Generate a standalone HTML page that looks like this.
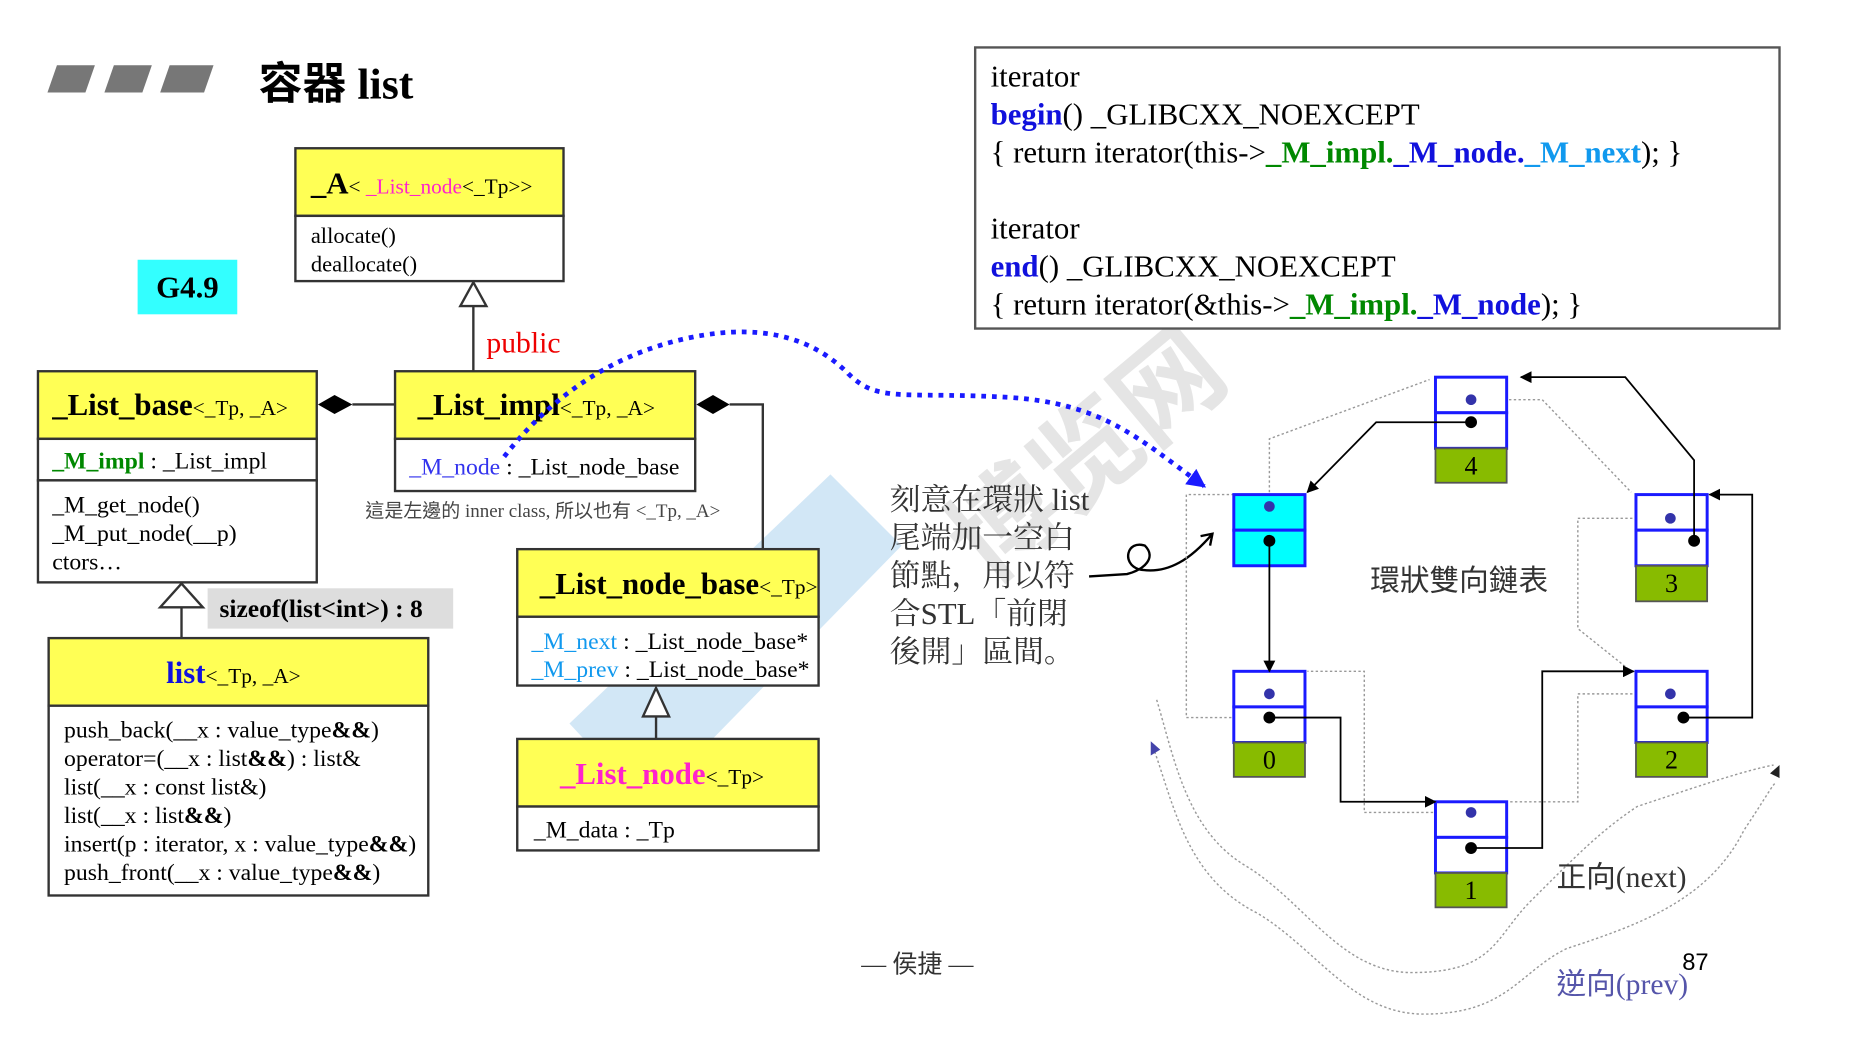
<!DOCTYPE html>
<html><head><meta charset="utf-8"><style>
html,body{margin:0;padding:0;background:#fff;overflow:hidden}
svg{display:block}
text{font-family:"Liberation Serif","Noto Serif CJK SC","Noto Sans CJK TC",serif}
.cjk{font-family:"Liberation Serif","Noto Sans CJK TC",sans-serif}
</style></head><body>
<svg width="1859" height="1039" viewBox="0 0 1567 876" preserveAspectRatio="none" xmlns="http://www.w3.org/2000/svg">
<defs>
<marker id="ab" markerWidth="10" markerHeight="10" refX="9" refY="5" orient="auto" markerUnits="userSpaceOnUse"><path d="M0,0 L10,5 L0,10 z" fill="#000"/></marker>
<marker id="abl" markerWidth="16" markerHeight="16" refX="14" refY="8" orient="auto" markerUnits="userSpaceOnUse"><path d="M0,0 L16,8 L0,16 z" fill="#1a1aff"/></marker>
</defs>
<!-- watermark -->
<g opacity="0.3">
<polygon points="480,610 700,400 760,460 545,680" fill="#6aaee0"/>
</g>
<text x="700" y="470" font-size="90" fill="#ccc" opacity="0.5" transform="rotate(-40 800 300)" font-weight="bold" class="cjk">博览网</text>

<!-- title -->
<polygon points="48,55 80,55 72,78 40,78" fill="#777"/>
<polygon points="96,55 128,55 120,78 88,78" fill="#777"/>
<polygon points="143,55 180,55 172,78 135,78" fill="#777"/>
<text x="218" y="83" font-size="37" font-weight="bold" class="cjk">容器 list</text>

<!-- G4.9 -->
<rect x="116" y="219" width="84" height="46" fill="#33ffff"/>
<text x="158" y="251" font-size="26" font-weight="bold" text-anchor="middle">G4.9</text>

<!-- _A box -->
<rect x="249" y="125" width="226" height="57" fill="#ffff55" stroke="#333" stroke-width="2"/>
<rect x="249" y="182" width="226" height="55" fill="#fff" stroke="#333" stroke-width="2"/>
<text x="262" y="163"><tspan font-size="26" font-weight="bold">_A</tspan><tspan font-size="18">&lt; </tspan><tspan font-size="18" fill="#ff22cc">_List_node</tspan><tspan font-size="18">&lt;_Tp&gt;&gt;</tspan></text>
<text x="262" y="205" font-size="19">allocate()</text>
<text x="262" y="229" font-size="19">deallocate()</text>
<polygon points="399,238 388,258 410,258" fill="#fff" stroke="#333" stroke-width="2"/>
<line x1="399" y1="258" x2="399" y2="313" stroke="#333" stroke-width="2"/>
<text x="410" y="297" font-size="25" fill="#e00">public</text>

<!-- _List_base -->
<rect x="32" y="313" width="235" height="57" fill="#ffff55" stroke="#333" stroke-width="2"/>
<rect x="32" y="370" width="235" height="35" fill="#fff" stroke="#333" stroke-width="2"/>
<rect x="32" y="405" width="235" height="86" fill="#fff" stroke="#333" stroke-width="2"/>
<text x="44" y="350"><tspan font-size="26" font-weight="bold">_List_base</tspan><tspan font-size="18">&lt;_Tp, _A&gt;</tspan></text>
<text x="44" y="395" font-size="20"><tspan fill="#008800" font-weight="bold">_M_impl</tspan> : _List_impl</text>
<text x="44" y="432" font-size="20">_M_get_node()</text>
<text x="44" y="456" font-size="20">_M_put_node(__p)</text>
<text x="44" y="480" font-size="20">ctors…</text>
<polygon points="268,341 282,333 297,341 282,349" fill="#000"/>
<line x1="297" y1="341" x2="333" y2="341" stroke="#333" stroke-width="2"/>

<!-- _List_impl -->
<rect x="333" y="313" width="253" height="57" fill="#ffff55" stroke="#333" stroke-width="2"/>
<rect x="333" y="370" width="253" height="44" fill="#fff" stroke="#333" stroke-width="2"/>
<text x="352" y="350"><tspan font-size="26" font-weight="bold">_List_impl</tspan><tspan font-size="18">&lt;_Tp, _A&gt;</tspan></text>
<text x="345" y="400" font-size="20"><tspan fill="#3333ee">_M_node</tspan> : _List_node_base</text>
<text x="308" y="436" font-size="16" class="cjk" fill="#444">這是左邊的 inner class, 所以也有 &lt;_Tp, _A&gt;</text>
<polygon points="587,341 601,333 615,341 601,349" fill="#000"/>
<polyline points="615,341 643,341 643,463" fill="none" stroke="#333" stroke-width="2"/>

<!-- _List_node_base -->
<rect x="436" y="463" width="254" height="57" fill="#ffff55" stroke="#333" stroke-width="2"/>
<rect x="436" y="520" width="254" height="58" fill="#fff" stroke="#333" stroke-width="2"/>
<text x="455" y="501"><tspan font-size="26" font-weight="bold">_List_node_base</tspan><tspan font-size="18">&lt;_Tp&gt;</tspan></text>
<text x="448" y="547" font-size="20"><tspan fill="#1199ee">_M_next</tspan> : _List_node_base*</text>
<text x="448" y="571" font-size="20"><tspan fill="#1199ee">_M_prev</tspan> : _List_node_base*</text>
<polygon points="553,580 542,604 564,604" fill="#fff" stroke="#333" stroke-width="2"/>
<line x1="553" y1="604" x2="553" y2="623" stroke="#333" stroke-width="2"/>

<!-- _List_node -->
<rect x="436" y="623" width="254" height="57" fill="#ffff55" stroke="#333" stroke-width="2"/>
<rect x="436" y="680" width="254" height="37" fill="#fff" stroke="#333" stroke-width="2"/>
<text x="472" y="661"><tspan font-size="26" font-weight="bold" fill="#ff22cc">_List_node</tspan><tspan font-size="18">&lt;_Tp&gt;</tspan></text>
<text x="450" y="706" font-size="20">_M_data : _Tp</text>

<!-- list -->
<polygon points="153,492 135,512 171,512" fill="#fff" stroke="#333" stroke-width="2"/>
<line x1="153" y1="512" x2="153" y2="538" stroke="#333" stroke-width="2"/>
<rect x="175" y="496" width="207" height="34" fill="#ddd"/>
<text x="185" y="520" font-size="21.5" font-weight="bold">sizeof(list&lt;int&gt;) : 8</text>
<rect x="41" y="538" width="320" height="57" fill="#ffff55" stroke="#333" stroke-width="2"/>
<rect x="41" y="595" width="320" height="160" fill="#fff" stroke="#333" stroke-width="2"/>
<text x="140" y="576"><tspan font-size="26" font-weight="bold" fill="#1111dd">list</tspan><tspan font-size="18">&lt;_Tp, _A&gt;</tspan></text>
<g font-size="20">
<text x="54" y="622">push_back(__x : value_type<tspan font-weight="bold">&amp;&amp;</tspan>)</text>
<text x="54" y="646">operator=(__x : list<tspan font-weight="bold">&amp;&amp;</tspan>) : list&amp;</text>
<text x="54" y="670">list(__x : const list&amp;)</text>
<text x="54" y="694">list(__x : list<tspan font-weight="bold">&amp;&amp;</tspan>)</text>
<text x="54" y="718">insert(p : iterator, x : value_type<tspan font-weight="bold">&amp;&amp;</tspan>)</text>
<text x="54" y="742">push_front(__x : value_type<tspan font-weight="bold">&amp;&amp;</tspan>)</text>
</g>

<!-- code box -->
<rect x="822" y="40" width="678" height="237" fill="#fff" stroke="#555" stroke-width="2"/>
<g font-size="26">
<text x="835" y="73">iterator</text>
<text x="835" y="105"><tspan fill="#1111dd" font-weight="bold">begin</tspan>() _GLIBCXX_NOEXCEPT</text>
<text x="835" y="137">{ return iterator(this-&gt;<tspan fill="#008800" font-weight="bold">_M_impl.</tspan><tspan fill="#1111dd" font-weight="bold">_M_node.</tspan><tspan fill="#1199ee" font-weight="bold">_M_next</tspan>); }</text>
<text x="835" y="201">iterator</text>
<text x="835" y="233"><tspan fill="#1111dd" font-weight="bold">end</tspan>() _GLIBCXX_NOEXCEPT</text>
<text x="835" y="265">{ return iterator(&amp;this-&gt;<tspan fill="#008800" font-weight="bold">_M_impl.</tspan><tspan fill="#1111dd" font-weight="bold">_M_node</tspan>); }</text>
</g>

<!-- blue dotted curve -->
<path d="M425,385 C460,340 510,300 580,285 C650,270 690,290 715,315 C740,340 760,330 850,335 C930,340 960,370 1015,410" fill="none" stroke="#1a1aff" stroke-width="4" stroke-dasharray="4,5" marker-end="url(#abl)"/>

<!-- chinese text -->
<g font-size="26" class="cjk" fill="#333">
<text x="750" y="430">刻意在環狀 list</text>
<text x="750" y="462">尾端加一空白</text>
<text x="750" y="494">節點，用以符</text>
<text x="750" y="526">合STL「前閉</text>
<text x="750" y="558">後開」區間。</text>
</g>
<path d="M918,486 L950,484 C965,480 975,470 965,460 C950,455 945,475 960,480 C985,485 1005,470 1022,450" fill="none" stroke="#000" stroke-width="2"/>
<path d="M1012,452 L1022,450 L1020,460" fill="none" stroke="#000" stroke-width="2"/>

<!-- gray dotted prev lines -->
<g fill="none" stroke="#999" stroke-width="1.2" stroke-dasharray="2,2">
<polyline points="1070,605 1000,605 1000,417 1040,417"/>
<polyline points="1070,427 1070,370 1205,320"/>
<polyline points="1240,337 1300,337 1375,415"/>
<polyline points="1408,437 1330,437 1330,530 1375,566"/>
<polyline points="1408,585 1330,585 1330,676 1272,676"/>
<polyline points="1240,685 1150,685 1150,566 1102,566"/>
<path d="M975,590 C990,640 1000,700 1050,730 C1100,760 1130,820 1190,820 C1260,820 1260,790 1290,760 C1330,720 1350,700 1380,680 C1440,660 1470,650 1495,645"/>
<path d="M972,630 C990,680 1000,740 1060,770 C1110,800 1140,855 1200,855 C1270,855 1280,820 1320,800 C1380,780 1440,760 1470,700 C1490,670 1495,660 1497,660"/>
</g>
<polygon points="970,625 978,632 970,637" fill="#4444aa"/>
<polygon points="1500,645 1492,652 1500,656" fill="#222"/>

<!-- nodes -->
<g stroke="#1a1aff" stroke-width="2.5">
<rect x="1040" y="417" width="60" height="30" fill="#00ffff"/>
<rect x="1040" y="447" width="60" height="30" fill="#00ffff"/>
<rect x="1210" y="318" width="60" height="30" fill="#fff"/>
<rect x="1210" y="348" width="60" height="30" fill="#fff"/>
<rect x="1379" y="417" width="60" height="30" fill="#fff"/>
<rect x="1379" y="447" width="60" height="30" fill="#fff"/>
<rect x="1040" y="566" width="60" height="30" fill="#fff"/>
<rect x="1040" y="596" width="60" height="30" fill="#fff"/>
<rect x="1379" y="566" width="60" height="30" fill="#fff"/>
<rect x="1379" y="596" width="60" height="30" fill="#fff"/>
<rect x="1210" y="676" width="60" height="30" fill="#fff"/>
<rect x="1210" y="706" width="60" height="30" fill="#fff"/>
</g>
<g fill="#88bb00" stroke="#555" stroke-width="1.5">
<rect x="1210" y="378" width="60" height="29"/>
<rect x="1379" y="477" width="60" height="30"/>
<rect x="1040" y="626" width="60" height="29"/>
<rect x="1379" y="626" width="60" height="29"/>
<rect x="1210" y="736" width="60" height="29"/>
</g>
<g font-size="22" text-anchor="middle">
<text x="1240" y="400">4</text><text x="1409" y="499">3</text><text x="1070" y="648">0</text><text x="1409" y="648">2</text><text x="1240" y="758">1</text>
</g>
<g fill="#3333aa">
<circle cx="1070" cy="427" r="4.5"/><circle cx="1240" cy="337" r="4.5"/><circle cx="1408" cy="437" r="4.5"/><circle cx="1070" cy="585" r="4.5"/><circle cx="1408" cy="585" r="4.5"/><circle cx="1240" cy="685" r="4.5"/>
</g>
<g fill="#000">
<circle cx="1070" cy="456" r="5"/><circle cx="1240" cy="356" r="5"/><circle cx="1428" cy="456" r="5"/><circle cx="1070" cy="605" r="5"/><circle cx="1419" cy="605" r="5"/><circle cx="1240" cy="715" r="5"/>
</g>
<!-- black arrows -->
<g fill="none" stroke="#000" stroke-width="1.5" marker-end="url(#ab)">
<polyline points="1070,456 1070,566"/>
<polyline points="1070,605 1130,605 1130,676 1210,676"/>
<polyline points="1240,715 1300,715 1300,566 1377,566"/>
<polyline points="1419,605 1477,605 1477,417 1441,417"/>
<polyline points="1428,456 1428,388 1370,318 1282,318"/>
<polyline points="1240,356 1160,356 1102,415"/>
</g>

<text x="1155" y="498" font-size="25" class="cjk" fill="#333">環狀雙向鏈表</text>
<text x="1312" y="748" font-size="25" class="cjk" fill="#333">正向(next)</text>
<text x="1312" y="838" font-size="25" class="cjk" fill="#5555aa">逆向(prev)</text>
<text x="1418" y="818" font-size="20" style="font-family:'Liberation Sans',sans-serif">87</text>
<text x="726" y="820" font-size="21" class="cjk" fill="#333">— 侯捷 —</text>
</svg>
</body></html>
